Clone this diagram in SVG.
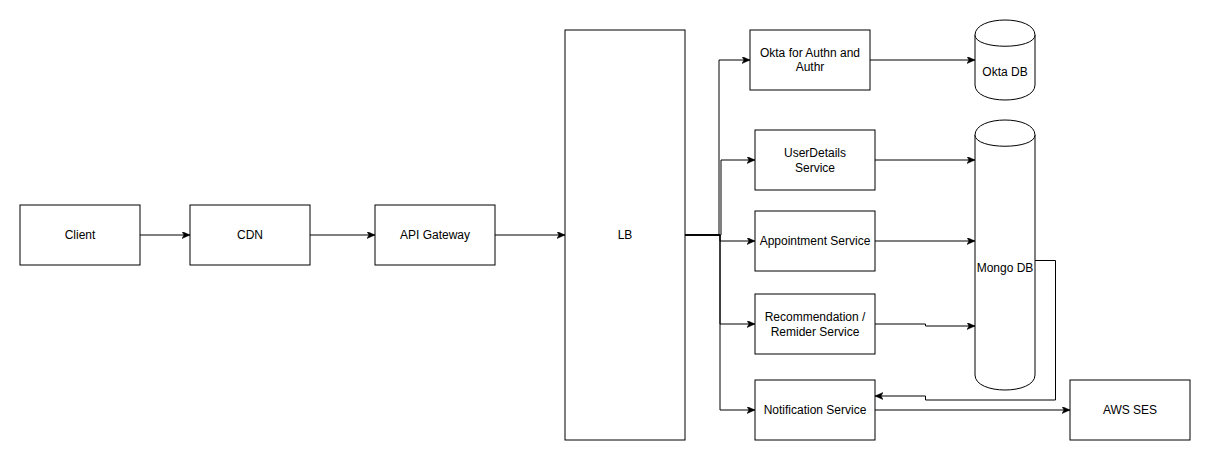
<svg xmlns="http://www.w3.org/2000/svg" width="1211" height="461" viewBox="0 0 1211 461">
<style>
.box{fill:#fff;stroke:#000;stroke-width:1}
.lbl{font-family:"Liberation Sans",Arial,sans-serif;font-size:12px;fill:#000;text-anchor:middle}
.edge{fill:none;stroke:#000;stroke-width:1;marker-end:url(#arr)}
</style>
<defs>
<marker id="arr" markerUnits="userSpaceOnUse" markerWidth="10" markerHeight="8" refX="8" refY="3.5" orient="auto" viewBox="0 0 10 8">
<path d="M0,0 L8,3.5 L0,7 L2,3.5 Z" fill="#000" stroke="#000" stroke-width="0.5"/>
</marker>
</defs>
<rect width="1211" height="461" fill="#fff"/>
<g id="connectors">
<path class="edge" d="M140,235 H190"/>
<path class="edge" d="M310,235 H375"/>
<path class="edge" d="M495,235 H565"/>
<path class="edge" d="M685,235 H719 V60 H750"/>
<path class="edge" d="M685,235 H721 V160 H755"/>
<path class="edge" d="M685,235 H720 V241 H755"/>
<path class="edge" d="M685,235 H720 V324 H755"/>
<path class="edge" d="M685,235 H720 V410 H755"/>
<path class="edge" d="M870,60 H975"/>
<path class="edge" d="M875,160 H975"/>
<path class="edge" d="M875,241 H975"/>
<path class="edge" d="M875,324 H925.5 V326 H975"/>
<path class="edge" d="M1035,260.5 H1055.5 V400 H925.5 V396 H875"/>
<path class="edge" d="M875,410 H1070"/>
</g>
<g id="client"><rect class="box" x="20" y="205" width="120" height="60"/><text class="lbl" x="80" y="239">Client</text></g>
<g id="cdn"><rect class="box" x="190" y="205" width="120" height="60"/><text class="lbl" x="250" y="239">CDN</text></g>
<g id="apigw"><rect class="box" x="375" y="205" width="120" height="60"/><text class="lbl" x="435" y="239">API Gateway</text></g>
<g id="lb"><rect class="box" x="565" y="30" width="120" height="410"/><text class="lbl" x="625" y="239">LB</text></g>
<g id="okta"><rect class="box" x="750" y="30" width="120" height="60"/><text class="lbl" x="810" y="57">Okta for Authn and</text><text class="lbl" x="810" y="71">Authr</text></g>
<g id="userdetails"><rect class="box" x="755" y="130" width="120" height="60"/><text class="lbl" x="815" y="157">UserDetails</text><text class="lbl" x="815" y="172">Service</text></g>
<g id="appointment"><rect class="box" x="755" y="211" width="120" height="60"/><text class="lbl" x="815" y="245">Appointment Service</text></g>
<g id="recommendation"><rect class="box" x="755" y="294" width="120" height="60"/><text class="lbl" x="815" y="321">Recommendation /</text><text class="lbl" x="815" y="336">Remider Service</text></g>
<g id="notification"><rect class="box" x="755" y="380" width="120" height="60"/><text class="lbl" x="815" y="414">Notification Service</text></g>
<g id="awsses"><rect class="box" x="1070" y="380" width="120" height="60"/><text class="lbl" x="1130" y="414">AWS SES</text></g>
<g id="oktadb">
<path class="box" d="M975,35 C975,15 1035,15 1035,35 V85 C1035,105 975,105 975,85 Z"/>
<path class="box" d="M975,35 C975,50 1035,50 1035,35" fill="none"/>
<text class="lbl" x="1005" y="76">Okta DB</text>
</g>
<g id="mongodb">
<path class="box" d="M975,135 C975,115 1035,115 1035,135 V375 C1035,395 975,395 975,375 Z"/>
<path class="box" d="M975,135 C975,150 1035,150 1035,135" fill="none"/>
<text class="lbl" x="1005" y="272">Mongo DB</text>
</g>
</svg>
